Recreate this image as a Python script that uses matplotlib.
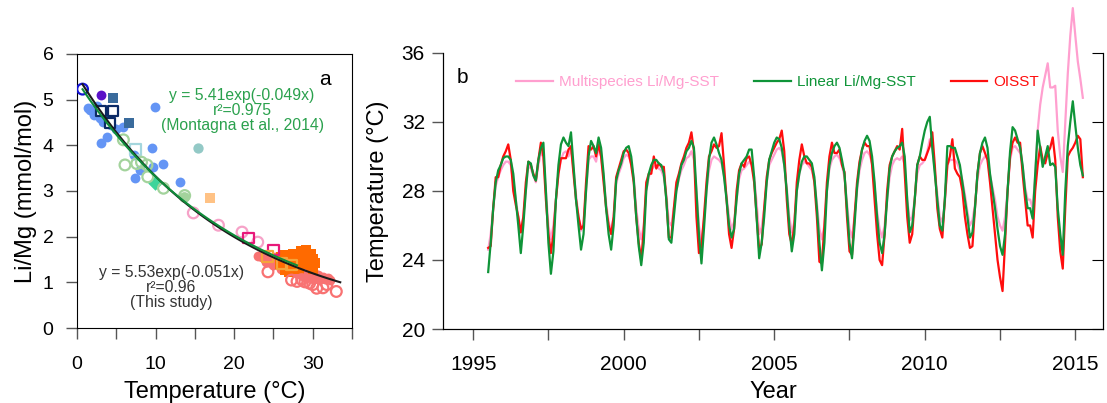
import numpy as np
import matplotlib
matplotlib.use('Agg')
import matplotlib.pyplot as plt
from matplotlib.ticker import MultipleLocator

plt.rcParams['font.family'] = ['Liberation Sans', 'DejaVu Sans']

# ---------------- panel a : Li/Mg vs temperature ----------------
blue_fill = [(1.6, 4.77), (2.1, 4.66), (2.9, 4.6), (3.8, 4.55), (1.4, 4.82), (2.4, 4.72),
             (3.3, 4.5), (4.3, 4.45), (5.9, 4.4), (3.8, 4.18), (3.1, 4.05), (9.9, 4.84),
             (9.5, 3.94), (11.0, 3.59), (13.1, 3.2), (7.2, 3.79), (8.0, 3.46), (7.4, 3.28),
             (9.7, 3.53), (2.6, 4.85), (5.0, 4.35), (4.0, 4.65)]
purple_fill = [(3.05, 5.10)]
steel_sq = [(4.6, 5.04), (6.6, 4.49)]
navy_open_sq = [(3.0, 4.75), (4.6, 4.76), (4.2, 4.48)]
blue_open = [(0.7, 5.23)]
lightblue_open_sq = [(7.4, 3.9)]
teal_fill = [(15.4, 3.95)]
aqua_diamond = [(9.9, 3.18)]
green_open = [(5.9, 4.12), (6.1, 3.57), (7.6, 3.6), (8.2, 3.63), (8.9, 3.57), (9.0, 3.31),
              (11.0, 3.06), (13.7, 2.9)]
green_fill = [(13.6, 2.86)]
peach_sq = [(16.9, 2.85)]
pink_open = [(14.8, 2.52), (18.0, 2.25), (21.0, 2.1), (23.0, 1.88)]
magenta_open_sq = [(21.8, 1.97), (25.0, 1.71)]
orange_open_sq = [(24.2, 1.56), (26.1, 1.42), (27.3, 1.38)]
salmon_fill = [(23.0, 1.58), (23.5, 1.55), (24.0, 1.6), (24.3, 1.52), (24.8, 1.5), (25.2, 1.55),
               (25.5, 1.45), (25.8, 1.5), (26.2, 1.42), (26.5, 1.38), (26.8, 1.45), (27.2, 1.35),
               (27.5, 1.3), (27.8, 1.38), (28.0, 1.25), (28.3, 1.3), (28.6, 1.22), (28.9, 1.28),
               (29.2, 1.18), (29.5, 1.22), (29.8, 1.15), (30.1, 1.2), (30.4, 1.12), (30.7, 1.15),
               (31.0, 1.1), (31.3, 1.12), (31.6, 1.08), (31.9, 1.1), (32.2, 1.05), (29.0, 1.12),
               (30.0, 1.08), (27.0, 1.25), (28.5, 1.15), (26.0, 1.3), (25.0, 1.38), (24.0, 1.45)]
orange_fill_sq = [(26.0, 1.55), (26.5, 1.6), (27.0, 1.5), (27.5, 1.62), (28.0, 1.55), (28.5, 1.65),
                  (29.0, 1.58), (29.5, 1.6), (30.0, 1.5), (30.3, 1.42), (29.8, 1.35), (28.8, 1.45),
                  (27.8, 1.42), (27.2, 1.35), (26.5, 1.28), (27.0, 1.22), (28.2, 1.3), (29.2, 1.4),
                  (30.0, 1.3), (28.5, 1.68), (29.2, 1.7), (29.8, 1.62), (26.3, 1.45), (25.8, 1.4)]
salmon_open = [(24.3, 1.23), (27.3, 1.05), (28.0, 1.02), (28.6, 1.06), (29.0, 1.01), (29.6, 0.98),
               (30.5, 0.87), (31.3, 0.88), (30.0, 0.95), (31.8, 0.95), (33.0, 0.8)]

fit_this = (5.53, -0.051, 0.7, 33.5)
fit_mont = (5.41, -0.049, 0.7, 28.0)

# ---------------- panel b : SST time series (monthly from Jul 1995) ----------------
oisst = [
    [24.7, 24.8, 27.0, 28.8, 28.8, 29.5, 30.0, 30.3, 30.7, 29.8, 28.0, 27.2],
    [26.5, 25.6, 26.5, 28.5, 29.7, 29.5, 29.0, 28.6, 29.8, 30.8, 30.0, 27.5],
    [25.5, 24.4, 25.5, 27.5, 29.0, 29.9, 29.9, 29.9, 30.4, 30.6, 29.0, 27.5],
    [26.5, 25.8, 26.0, 28.5, 30.6, 30.4, 30.6, 30.0, 30.7, 30.0, 28.5, 27.0],
    [26.0, 25.5, 26.5, 28.8, 29.3, 29.8, 30.3, 30.4, 30.2, 29.5, 28.5, 26.5],
    [25.0, 24.0, 25.8, 28.5, 29.0, 29.0, 30.0, 29.3, 29.6, 29.4, 29.4, 27.5],
    [25.3, 25.3, 27.0, 28.5, 29.0, 29.6, 30.0, 30.5, 30.8, 31.4, 30.3, 26.5],
    [24.4, 24.8, 26.5, 28.5, 30.0, 30.3, 30.7, 30.5, 30.6, 31.35, 29.5, 27.5],
    [25.5, 24.7, 25.8, 28.0, 29.2, 29.6, 29.4, 29.9, 30.0, 29.5, 28.5, 26.5],
    [24.6, 24.9, 27.0, 28.8, 29.8, 30.2, 30.5, 30.8, 31.0, 31.5, 30.3, 27.5],
    [25.5, 24.9, 26.0, 28.5, 29.8, 30.7, 30.0, 29.6, 29.6, 29.4, 28.5, 26.5],
    [23.9, 23.8, 26.0, 28.5, 30.0, 30.8, 30.2, 30.2, 30.4, 29.5, 29.1, 26.5],
    [24.5, 24.3, 26.5, 28.5, 29.7, 30.4, 30.8, 30.6, 30.6, 29.5, 27.5, 25.5],
    [24.0, 23.7, 25.5, 28.0, 29.5, 30.0, 30.3, 30.6, 30.4, 31.6, 29.0, 26.5],
    [25.0, 25.5, 27.5, 29.5, 30.0, 29.8, 29.8, 30.2, 30.6, 31.4, 29.5, 27.0],
    [25.8, 25.3, 27.5, 29.5, 30.0, 31.0, 29.3, 29.0, 28.8, 28.0, 26.5, 25.5],
    [24.7, 24.8, 27.0, 29.0, 30.2, 30.6, 30.2, 29.8, 28.5, 27.0, 25.5, 24.0],
    [23.0, 22.2, 25.0, 28.0, 30.0, 30.8, 31.1, 30.8, 30.8, 29.0, 27.5, 26.0],
    [26.0, 25.3, 28.0, 29.5, 30.6, 29.8, 29.6, 30.2, 30.5, 31.1, 29.8, 26.5],
    [24.5, 23.5, 27.0, 30.0, 30.3, 30.5, 30.8, 31.2, 31.0, 28.8],
]
linear = [
    [23.3, 25.0, 27.0, 28.5, 29.2, 29.5, 29.9, 30.0, 30.0, 29.8, 29.0, 27.5],
    [26.0, 24.4, 26.0, 28.0, 29.7, 29.6, 28.9, 28.6, 29.8, 30.5, 30.8, 28.0],
    [25.0, 23.2, 24.5, 27.5, 29.5, 30.7, 31.1, 30.8, 30.6, 31.4, 29.5, 27.5],
    [26.0, 24.6, 25.5, 28.0, 30.0, 30.9, 30.6, 30.2, 31.1, 30.5, 29.0, 27.0],
    [25.5, 24.6, 26.0, 28.6, 29.2, 29.6, 30.2, 30.5, 30.6, 30.0, 28.7, 26.5],
    [24.8, 23.7, 25.0, 28.0, 29.0, 29.5, 29.8, 29.8, 29.6, 29.5, 29.0, 27.5],
    [25.2, 25.0, 26.5, 28.0, 28.8, 29.5, 29.8, 30.3, 30.5, 30.9, 30.5, 28.0],
    [25.5, 23.8, 25.8, 28.0, 29.8, 30.8, 31.1, 30.7, 30.2, 29.8, 28.8, 27.5],
    [26.0, 25.3, 25.8, 27.5, 29.0, 29.6, 29.8, 30.0, 30.4, 30.4, 28.8, 26.5],
    [24.1, 25.0, 26.5, 28.5, 29.8, 30.3, 30.8, 31.1, 31.0, 30.5, 29.5, 28.0],
    [26.0, 24.5, 25.5, 28.0, 29.0, 29.7, 30.0, 30.0, 29.8, 29.6, 28.8, 27.0],
    [25.0, 23.4, 25.0, 28.0, 29.5, 30.2, 30.6, 30.8, 30.5, 29.8, 29.0, 27.0],
    [25.0, 24.1, 26.0, 28.2, 29.5, 30.4, 30.9, 31.2, 30.9, 30.0, 28.5, 26.5],
    [25.0, 24.4, 25.5, 27.5, 29.3, 30.0, 30.3, 30.5, 30.6, 30.8, 30.0, 27.5],
    [25.6, 26.0, 27.5, 29.5, 30.0, 30.8, 31.5, 32.0, 32.3, 30.5, 29.0, 27.5],
    [26.0, 25.7, 27.5, 30.6, 30.6, 30.5, 30.5, 30.0, 29.5, 28.5, 27.5, 26.5],
    [25.3, 25.6, 27.0, 29.0, 30.2, 30.8, 31.1, 30.5, 29.0, 28.0, 27.0, 25.8],
    [24.8, 24.3, 25.5, 28.0, 30.3, 31.7, 31.5, 31.0, 30.5, 29.5, 28.0, 27.0],
    [27.0, 26.4, 29.0, 31.5, 30.5, 29.4, 30.0, 30.6, 29.5, 29.6, 29.4, 27.0],
    [25.5, 24.3, 28.0, 30.6, 32.0, 33.2, 31.8, 30.5, 29.5, 28.9],
]
multi = [
    [24.6, 25.5, 27.0, 28.3, 28.8, 29.2, 29.5, 29.7, 29.7, 29.5, 28.5, 27.5],
    [26.5, 25.6, 26.5, 28.0, 29.5, 29.3, 28.9, 28.5, 29.5, 30.2, 30.0, 28.0],
    [26.0, 25.2, 26.0, 27.5, 29.0, 29.8, 30.2, 30.3, 30.0, 30.5, 29.3, 27.8],
    [26.5, 25.7, 26.2, 28.0, 29.8, 30.0, 30.0, 29.7, 30.5, 30.0, 28.8, 27.3],
    [26.2, 25.7, 26.5, 28.4, 29.0, 29.4, 29.9, 30.1, 30.0, 29.6, 28.8, 27.0],
    [25.8, 25.2, 26.0, 28.0, 28.8, 29.2, 29.4, 29.5, 29.3, 29.2, 28.8, 27.8],
    [26.2, 26.0, 27.0, 28.0, 28.7, 29.2, 29.5, 29.9, 30.0, 30.3, 29.8, 28.0],
    [26.0, 25.0, 26.3, 28.0, 29.2, 29.8, 30.0, 29.9, 29.8, 29.6, 28.9, 27.7],
    [26.5, 25.8, 26.2, 27.5, 28.7, 29.2, 29.3, 29.5, 29.7, 29.5, 28.8, 27.3],
    [25.5, 25.9, 27.0, 28.5, 29.5, 29.8, 30.1, 30.4, 30.5, 30.3, 29.5, 28.2],
    [26.5, 25.6, 26.2, 28.0, 29.0, 29.5, 29.7, 29.6, 29.4, 29.2, 28.6, 27.3],
    [25.8, 25.2, 26.0, 28.0, 29.3, 29.8, 30.0, 30.1, 29.9, 29.5, 28.8, 27.3],
    [25.8, 25.3, 26.5, 28.0, 29.2, 29.8, 30.2, 30.3, 30.1, 29.6, 28.2, 26.8],
    [25.8, 25.3, 26.0, 27.5, 28.8, 29.5, 29.8, 29.9, 29.8, 30.0, 29.5, 27.5],
    [26.3, 26.5, 27.5, 29.0, 29.5, 29.6, 29.8, 30.3, 31.0, 30.5, 29.2, 27.8],
    [26.5, 26.2, 27.3, 29.5, 29.8, 29.8, 29.8, 29.6, 29.2, 28.6, 27.8, 26.8],
    [26.0, 26.3, 27.2, 28.7, 29.5, 29.8, 30.0, 29.9, 28.9, 28.2, 27.5, 26.5],
    [26.0, 25.7, 26.5, 28.0, 29.8, 30.5, 30.6, 30.4, 30.2, 29.4, 28.2, 27.5],
    [27.5, 27.0, 28.8, 31.5, 33.0, 34.0, 34.7, 35.4, 34.0, 34.0, 34.1, 31.5],
    [30.0, 29.1, 32.0, 34.8, 37.0, 38.6, 37.0, 35.5, 34.5, 33.4],
]
start_year = 1995.5  # July 1995

fig = plt.figure(figsize=(11.07, 4.03), dpi=100)
axa = fig.add_axes([0.0696, 0.1861, 0.2484, 0.680])
axb = fig.add_axes([0.4002, 0.1836, 0.5962, 0.685])


def sc(ax, pts, **kw):
    x, y = zip(*pts)
    ax.scatter(x, y, **kw)


sc(axa, blue_fill, s=50, color='#6495f5', lw=0, zorder=2)
sc(axa, purple_fill, s=50, color='#5a12c8', lw=0, zorder=2)
sc(axa, steel_sq, s=60, marker='s', color='#3a6b9c', lw=0, zorder=2)
sc(axa, navy_open_sq, s=60, marker='s', facecolor='white', edgecolor='#0b2a66', lw=1.6, zorder=3)
sc(axa, blue_open, s=60, facecolor='none', edgecolor='#1414d2', lw=1.6, zorder=3)
sc(axa, lightblue_open_sq, s=60, marker='s', facecolor='none', edgecolor='#a4d6dd', lw=1.6, zorder=2)
sc(axa, teal_fill, s=55, color='#93c9c6', lw=0, zorder=2)
sc(axa, aqua_diamond, s=55, marker='D', color='#3dd49a', lw=0, zorder=2)
sc(axa, green_open, s=60, facecolor='none', edgecolor='#a3d39c', lw=1.6, zorder=2)
sc(axa, green_fill, s=60, color='#a3d39c', lw=0, zorder=2)
sc(axa, peach_sq, s=55, marker='s', color='#ffc285', lw=0, zorder=2)
sc(axa, pink_open, s=60, facecolor='none', edgecolor='#f6a2c8', lw=1.6, zorder=2)
sc(axa, salmon_fill, s=50, color='#f87272', lw=0, zorder=2)
sc(axa, orange_fill_sq, s=55, marker='s', color='#ff6a00', lw=0, zorder=2)
sc(axa, salmon_open, s=60, facecolor='none', edgecolor='#f87272', lw=1.6, zorder=2)
sc(axa, magenta_open_sq, s=60, marker='s', facecolor='none', edgecolor='#e8197a', lw=1.6, zorder=3)
sc(axa, orange_open_sq, s=60, marker='s', facecolor='none', edgecolor='#f5a43a', lw=1.6, zorder=3)

for (a0, k, x0, x1), c in [(fit_this, '#1a1a1a'), (fit_mont, '#0f8c3a')]:
    xs = np.linspace(x0, x1, 100)
    axa.plot(xs, a0 * np.exp(k * xs), color=c, lw=1.5, zorder=4)

axa.text(21.0, 4.77, 'y = 5.41exp(-0.049x)\nr\u00b2=0.975\n(Montagna et al., 2014)',
         color='#2aa14d', fontsize=11.3, ha='center', va='center', linespacing=1.0)
axa.text(12.0, 0.88, 'y = 5.53exp(-0.051x)\nr\u00b2=0.96\n(This study)',
         color='#333333', fontsize=11.3, ha='center', va='center', linespacing=1.0)
axa.text(31.6, 5.43, 'a', fontsize=15, ha='center', va='center')

axa.set_xlim(0, 35)
axa.set_ylim(0, 6)
axa.xaxis.set_major_locator(MultipleLocator(10))
axa.xaxis.set_minor_locator(MultipleLocator(5))
axa.yaxis.set_major_locator(MultipleLocator(1))
axa.tick_params(axis='both', which='both', direction='out', length=8, width=1, color='#555555')
axa.tick_params(axis='x', which='major', labelsize=14, pad=12)
axa.tick_params(axis='y', which='major', labelsize=14, pad=9)
axa.set_xlabel('Temperature (\u00b0C)', fontsize=17)
axa.set_ylabel('Li/Mg (mmol/mol)', fontsize=17)
axa.xaxis.set_label_coords(0.5, -0.195)
axa.yaxis.set_label_coords(-0.145, 0.5)

# panel b
oi = np.concatenate(oisst)
li = np.concatenate(linear)
mu = np.concatenate(multi)
t = start_year + np.arange(len(oi)) / 12.0

axb.plot(t, mu, color='#ff9fcf', lw=1.6, label='Multispecies Li/Mg-SST', zorder=2, clip_on=False)
axb.plot(t, oi, color='#ff0d0d', lw=1.6, label='OISST', zorder=3)
axb.plot(t, li, color='#0f9438', lw=1.6, label='Linear Li/Mg-SST', zorder=4)

h, l = axb.get_legend_handles_labels()
order = [0, 2, 1]
axb.legend([h[i] for i in order], [l[i] for i in order], loc='upper left',
           bbox_to_anchor=(0.09, 0.97), ncol=3, frameon=False, fontsize=11,
           handlelength=2.4, handletextpad=0.4, columnspacing=2.3, labelcolor='linecolor')
axb.text(1994.66, 34.6, 'b', fontsize=15, ha='center', va='center')

axb.set_xlim(1994.0, 2015.92)
axb.set_ylim(20, 36)
axb.xaxis.set_major_locator(MultipleLocator(5))
axb.xaxis.set_minor_locator(MultipleLocator(2.5))
axb.yaxis.set_major_locator(MultipleLocator(4))
axb.tick_params(axis='both', which='both', direction='out', length=8, width=1, color='#555555')
axb.tick_params(axis='x', which='major', labelsize=15, pad=11)
axb.tick_params(axis='y', which='major', labelsize=15, pad=5)
axb.spines['top'].set_visible(False)
axb.set_xlabel('Year', fontsize=17)
axb.set_ylabel('Temperature (\u00b0C)', fontsize=17)
axb.xaxis.set_label_coords(0.5, -0.19)
axb.yaxis.set_label_coords(-0.082, 0.5)

axr = axb.twinx()
axr.set_ylim(20, 36)
axr.yaxis.set_major_locator(MultipleLocator(4))
axr.tick_params(axis='y', direction='in', length=8, labelright=False)
axr.spines['top'].set_visible(False)

fig.savefig('out.png', dpi=100)
